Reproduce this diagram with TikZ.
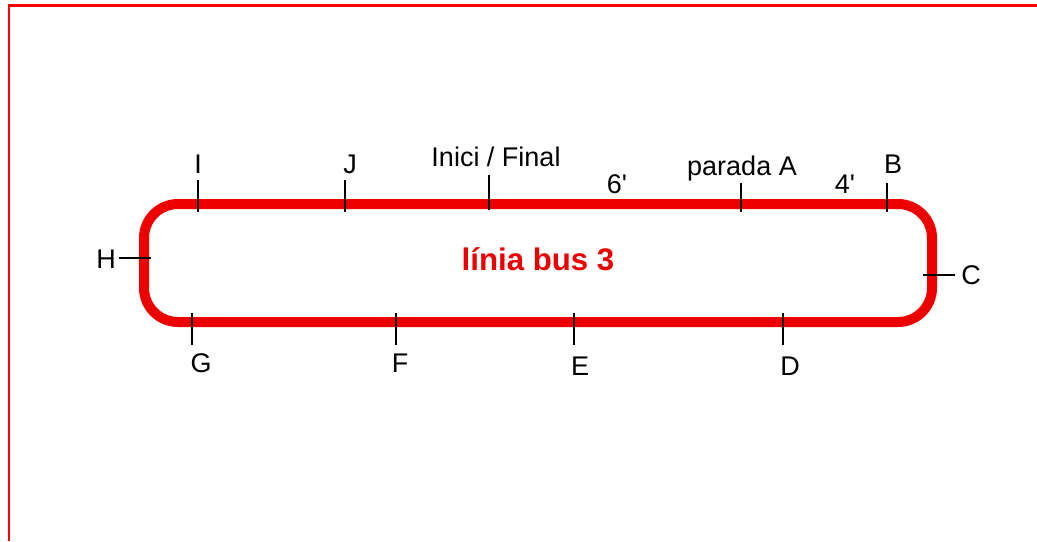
\documentclass[tikz,border=0pt]{standalone}
\usepackage{fontspec}
\setmainfont{Liberation Sans}[Ligatures=TeXOff]
\usepackage{xcolor}
\usepackage{tikz}
\usetikzlibrary{arrows,positioning,calc}
\definecolor{busred}{RGB}{236,0,0}

\begin{document}
\begin{tikzpicture}[x = .5pt, y = -.5pt, every node/.style = {anchor = base, inner sep = 0pt, font = \fontsize{13.5}{16}\selectfont}]
\useasboundingbox (0,0) rectangle (1037,541);
\draw[red, line width = 1.1pt] (9,541) -- (9,5.5) -- (1037,5.5);
\draw[busred, line width = 5pt, rounded corners = 17pt] (144,204) rectangle (932,322);
\node[text = busred, font = \fontsize{15.6}{18}\selectfont\bfseries] (bus) at (538,270) {línia bus 3};
% parades de dalt
\node (i) at (198,173) {I};
\draw[thick] (198,180) -- (198,212);
\node (j) at (350,173) {J};
\draw[thick] (345,180) -- (345,212);
\node (ini) at (496,166) {Inici / Final};
\draw[thick] (489,175) -- (489,210);
\node (t6) at (617,193) {6'};
\node (pa) at (742,175) {parada A};
\draw[thick] (741,183) -- (741,212);
\node (t4) at (845,193) {4'};
\node (b) at (893,173) {B};
\draw[thick] (887,183) -- (887,212);
% costats
\node (h) at (106,268) {H};
\draw[thick] (119,258) -- (151,258);
\node (c) at (971,284) {C};
\draw[thick] (923,275) -- (955,275);
% parades de baix
\node (g) at (201,372) {G};
\draw[thick] (192,313) -- (192,345);
\node (f) at (400,372) {F};
\draw[thick] (396,313) -- (396,345);
\node (e) at (580,375) {E};
\draw[thick] (574,313) -- (574,345);
\node (d) at (790,375) {D};
\draw[thick] (783,313) -- (783,345);
\end{tikzpicture}
\end{document}
